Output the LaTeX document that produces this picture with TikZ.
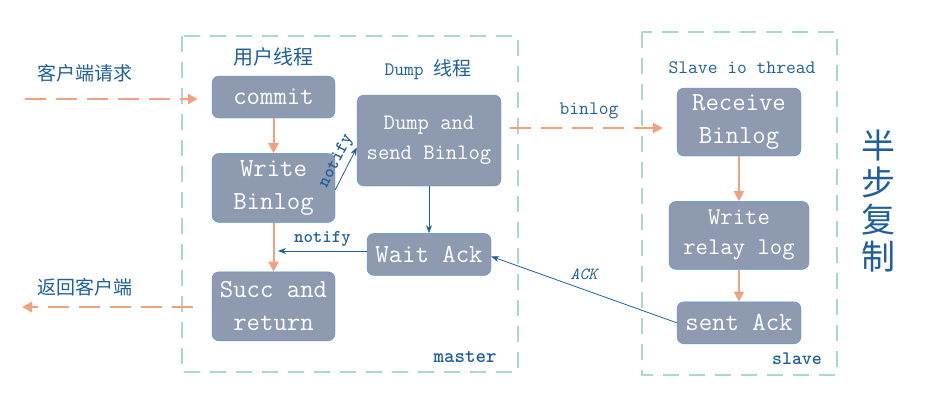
\documentclass[tikz,border=0pt]{standalone}
\usepackage{fontspec}
\newfontfamily\cjk{Noto Sans CJK SC}
\usetikzlibrary{positioning, arrows.meta}
\definecolor{boxfill}{HTML}{8D9AB0}
\definecolor{boxline}{HTML}{4F94D4}
\definecolor{orng}{HTML}{F2A17E}
\definecolor{ink}{HTML}{1F5F99}
\definecolor{frame}{HTML}{A9D9CD}

\tikzset{
  box/.style={draw=boxline, fill=boxfill, rounded corners=7pt, text=white,
    font=\ttfamily\fontsize{26}{33}\selectfont, align=center, inner sep=0pt,
    minimum width=123pt},
  flow/.style={draw=orng, line width=2pt, -{Triangle[length=10pt,width=10pt]}},
  client/.style={flow, line width=2.5pt, dash pattern=on 21pt off 10pt},
  sig/.style={draw=ink, line width=0.8pt, -{Stealth[length=8pt,width=6pt]}},
  zone/.style={draw=frame, line width=1.2pt, dash pattern=on 16pt off 10pt},
  lbl/.style={text=ink, font=\ttfamily\fontsize{19}{22}\selectfont},
  note/.style={text=ink, font=\ttfamily\bfseries\fontsize{18}{20}\selectfont},
}

\begin{document}
\begin{tikzpicture}[x=1pt, y=-1pt]
  \useasboundingbox (0,0) rectangle (929,410);

  % master and slave zones
  \draw[zone] (182,36) rectangle (518,372);
  \draw[zone] (642,32) rectangle (837,375);

  % user thread
  \node[box, minimum height=42pt] (commit) at (273.5,97) {commit};
  \node[box, minimum height=69pt] (wbin) [below=35pt of commit] {Write\\Binlog};
  \node[box, minimum height=69pt] (succ) [below=49pt of wbin] {Succ and\\return};

  % dump thread
  \node[box, minimum width=144pt, minimum height=91pt, font=\ttfamily\fontsize{22}{30}\selectfont]
    (dump) at (429,140.5) {Dump and\\send Binlog};
  \node[box, minimum width=124pt, minimum height=42pt] (wait) [below=47pt of dump] {Wait Ack};

  % slave io thread
  \node[box, minimum width=124pt, minimum height=68pt] (recv) at (739,122) {Receive\\Binlog};
  \node[box, minimum width=140pt, minimum height=68pt, font=\ttfamily\fontsize{24}{30}\selectfont]
    (relay) [below=45pt of recv] {Write\\relay log};
  \node[box, minimum width=124pt, minimum height=42pt] (sent) [below=32pt of relay] {sent Ack};

  % titles
  \node[text=ink, font=\cjk\fontsize{20}{24}\selectfont] (tuser) at (273,57) {用户线程};
  \node[lbl] (tdump) at (428,70) {Dump {\cjk 线程}};
  \node[lbl] (tslave) at (742,68) {Slave io thread};
  \node[note, font=\ttfamily\bfseries\fontsize{20}{22}\selectfont] (tmaster) at (465,357) {master};
  \node[note, font=\ttfamily\bfseries\fontsize{19}{22}\selectfont] (tsl) at (797,359) {slave};
  \node[text=ink, font=\cjk\fontsize{34}{37}\selectfont, align=center] (semi) at (878,201)
    {半\\步\\复\\制};

  % client side
  \coordinate (req) at (25,99);
  \coordinate (ret) at (22,307);
  \node[text=ink, font=\cjk\fontsize{19}{22}\selectfont] (treq) at (85,73) {客户端请求};
  \node[text=ink, font=\cjk\fontsize{19}{22}\selectfont] (tret) at (85,287) {返回客户端};
  \draw[client, shorten >=14pt] (req) -- (req -| commit.west);
  \draw[client, shorten <=19pt] (succ.west |- ret) -- (ret);

  % orange steps
  \draw[flow] (commit) -- (wbin);
  \draw[flow] (wbin) -- (succ);
  \draw[flow] (recv) -- (relay);
  \draw[flow] (relay) -- (sent);

  % binlog to slave
  \coordinate (bl) at ([yshift=12.5pt]dump.east);
  \draw[client, shorten <=9pt, shorten >=14pt] (bl) -- (bl -| recv.west)
    node[lbl, midway, above=5pt] {binlog};

  % signals
  \coordinate (back) at (278,251);
  \draw[sig] ([yshift=-2pt]wbin.east) -- ([yshift=-7pt]dump.west)
    node[note, pos=0.55, sloped, above=3pt, inner sep=1pt] {notify};
  \draw[sig] (dump) -- (wait);
  \draw[sig] (wait.west |- back) -- (back)
    node[note, midway, above=1pt] {notify};
  \draw[sig] (sent.west) -- ([yshift=-2pt]wait.east)
    node[text=ink, font=\ttfamily\itshape\fontsize{17}{20}\selectfont, pos=0.5, above=6pt] {ACK};
\end{tikzpicture}
\end{document}
